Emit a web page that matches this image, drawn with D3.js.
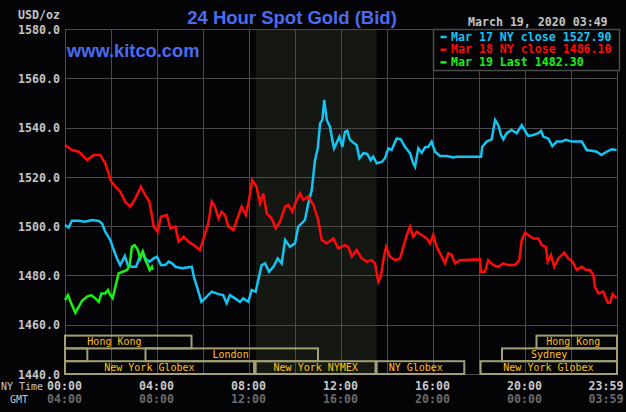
<!DOCTYPE html>
<html>
<head>
<meta charset="utf-8">
<script src="https://cdn.jsdelivr.net/npm/d3@7"></script>
<style>
  body { margin: 0; background: #040406; }
  svg { display: block; }
</style>
</head>
<body>
<script>
// hours since 00:00 NY time, price in USD/oz
var mar17Hours = [0,0.16,0.30,0.60,0.88,1.17,1.47,1.61,1.75,1.97,2.12,2.26,2.40,2.60,2.73,2.91,3.09,3.23,3.38,3.49,3.67,3.86,4.00,4.17,4.36,4.51,4.65,4.80,5.09,5.38,5.52,5.60,5.74,5.93,6.16,6.38,6.67,6.88,7.03,7.17,7.39,7.61,7.75,7.97,8.12,8.29,8.40,8.55,8.70,8.87,9.06,9.25,9.42,9.57,9.78,10.00,10.14,10.29,10.43,10.58,10.73,10.87,10.99,11.09,11.19,11.27,11.38,11.52,11.62,11.70,11.93,12.06,12.17,12.27,12.39,12.57,12.68,12.80,12.97,13.14,13.29,13.40,13.55,13.77,13.91,14.06,14.20,14.42,14.60,14.78,15.00,15.14,15.22,15.36,15.51,15.65,15.80,15.94,16.09,16.30,16.60,16.88,17.03,18.09,18.14,18.33,18.55,18.62,18.70,18.84,18.96,19.06,19.20,19.42,19.64,19.86,20.00,20.14,20.36,20.58,20.70,20.80,21.01,21.19,21.38,21.60,21.77,22.03,22.47,22.68,22.90,23.12,23.33,23.55,23.77,23.98];
var mar17Prices = [1500.5,1499.4,1502.2,1502.2,1501.8,1502.5,1502.1,1501.1,1497.7,1494.4,1490.3,1486.9,1484.2,1487.9,1484.2,1483.5,1483.5,1486.9,1489.6,1486.9,1485.6,1486.9,1487.6,1484.2,1484.2,1485.6,1484.9,1483.5,1482.9,1483.3,1483.5,1479.5,1475.4,1469.3,1471.4,1473.4,1472.4,1472.0,1468.7,1472.0,1470.7,1469.3,1470.7,1469.3,1474.1,1473.4,1478.1,1484.2,1484.9,1481.5,1483.5,1486.9,1484.9,1494.4,1491.6,1493.0,1499.8,1501.1,1502.5,1509.3,1514.7,1526.8,1531.6,1541.7,1543.1,1551.2,1543.1,1540.4,1535.0,1531.6,1536.3,1532.2,1538.3,1538.7,1535.0,1533.6,1532.9,1527.5,1529.6,1529.3,1526.8,1528.2,1525.5,1526.1,1527.5,1531.6,1530.9,1535.6,1535.2,1532.2,1529.6,1525.5,1524.1,1531.6,1529.8,1532.0,1532.2,1534.3,1530.2,1528.5,1528.5,1527.9,1528.2,1528.2,1532.2,1534.3,1535.2,1539.0,1543.1,1541.0,1537.0,1535.2,1537.7,1539.0,1537.7,1541.0,1538.7,1536.6,1537.0,1537.7,1538.7,1536.3,1535.6,1532.5,1534.3,1534.3,1535.0,1534.3,1534.3,1530.9,1530.6,1530.2,1528.9,1530.2,1531.2,1530.9];

var mar18Hours = [0,0.30,0.60,0.96,1.25,1.53,1.75,1.90,1.97,2.19,2.40,2.62,2.84,3.06,3.30,3.49,3.67,3.86,4.03,4.17,4.43,4.58,4.80,4.94,5.16,5.38,5.60,5.87,6.09,6.23,6.38,6.52,6.67,6.81,6.96,7.10,7.32,7.47,7.68,7.86,8.00,8.14,8.33,8.48,8.62,8.77,8.99,9.16,9.35,9.57,9.71,9.88,10.07,10.22,10.36,10.58,10.80,11.01,11.16,11.38,11.67,11.88,12.17,12.32,12.47,12.68,12.90,13.12,13.33,13.48,13.62,13.73,13.84,13.96,14.13,14.35,14.57,14.71,14.86,15.00,15.14,15.29,15.51,15.73,15.87,16.01,16.16,16.38,16.52,16.67,16.81,16.96,17.17,18.04,18.09,18.26,18.40,18.62,18.84,19.06,19.27,19.57,19.75,19.86,20.00,20.14,20.36,20.58,20.73,20.90,20.99,21.13,21.27,21.45,21.71,21.88,22.06,22.25,22.47,22.65,22.83,22.97,23.04,23.19,23.40,23.60,23.70,23.81,23.98];
var mar18Prices = [1532.9,1530.9,1530.2,1526.8,1528.9,1528.9,1525.5,1521.4,1518.7,1516.0,1514.0,1509.9,1507.9,1511.3,1516.0,1512.6,1509.9,1499.8,1497.7,1503.8,1504.5,1499.1,1499.8,1493.7,1495.7,1493.7,1492.3,1490.3,1497.1,1501.1,1509.9,1507.9,1503.1,1505.9,1504.5,1499.8,1498.4,1502.5,1507.9,1504.5,1510.6,1518.7,1516.0,1509.3,1513.3,1505.2,1503.1,1499.1,1501.8,1507.9,1508.6,1505.9,1510.6,1513.3,1510.6,1512.0,1508.6,1502.5,1494.4,1493.0,1495.0,1491.0,1492.3,1491.6,1487.6,1490.3,1486.9,1485.6,1486.2,1484.9,1477.4,1479.5,1486.2,1491.6,1487.6,1486.2,1486.9,1491.6,1496.4,1499.8,1495.7,1497.7,1496.4,1495.0,1493.0,1496.4,1491.6,1487.6,1484.9,1489.0,1488.3,1484.9,1486.2,1486.5,1481.5,1481.5,1486.2,1484.2,1483.5,1484.9,1484.2,1484.2,1486.2,1494.4,1497.3,1496.4,1495.0,1495.0,1492.3,1491.6,1485.6,1488.3,1483.5,1486.9,1489.2,1486.9,1485.6,1482.2,1483.5,1482.2,1482.2,1480.2,1475.4,1472.7,1473.4,1468.9,1468.9,1472.4,1470.7];

var mar19Hours = [0,0.13,0.27,0.45,0.60,0.74,0.96,1.14,1.32,1.47,1.58,1.75,1.87,1.97,2.07,2.19,2.33,2.51,2.70,2.81,2.91,3.03,3.17,3.27,3.38,3.49,3.60,3.68,3.78,3.82];
var mar19Prices = [1470.0,1472.0,1468.7,1464.9,1467.3,1469.7,1471.4,1472.0,1470.7,1469.3,1472.7,1472.7,1474.1,1472.0,1470.7,1475.4,1480.8,1481.5,1482.2,1484.2,1491.6,1492.3,1490.3,1486.9,1489.6,1486.2,1484.2,1482.2,1483.5,1482.3];

var legendLabels = ["Mar 17 NY close 1527.90", "Mar 18 NY close 1486.10", "Mar 19 Last 1482.30"];

var yTicks = [1440, 1460, 1480, 1500, 1520, 1540, 1560, 1580];
var xTickHours = [0, 4, 8, 12, 16, 20, 24];
var nyTimeLabels = ["00:00", "04:00", "08:00", "12:00", "16:00", "20:00", "23:59"];
var gmtLabels = ["04:00", "08:00", "12:00", "16:00", "20:00", "00:00", "03:59"];

// trading sessions: row 0 = top
var sessions = [
  {name: "Hong Kong",       start: 0,     end: 5.5,   row: 0, labelAt: 2.15},
  {name: "Hong Kong",       start: 20.5,  end: 24,    row: 0, labelAt: 22.1},
  {name: "",                start: 0,     end: 0.97,  row: 1, labelAt: 0.5},
  {name: "London",          start: 3.5,   end: 11,    row: 1, labelAt: 7.2},
  {name: "Sydney",          start: 19,    end: 24,    row: 1, labelAt: 21.05},
  {name: "New York Globex", start: 0,     end: 8.22,  row: 2, labelAt: 3.67},
  {name: "New York NYMEX",  start: 8.29,  end: 13.5,  row: 2, labelAt: 10.9},
  {name: "NY Globex",       start: 13.55, end: 17.36, row: 2, labelAt: 15.25},
  {name: "New York Globex", start: 18.07, end: 24,    row: 2, labelAt: 21.02}
];
var nymexStart = 8.3, nymexEnd = 13.55;

// set the dimensions and margins of the graph
var margin = {top: 29, right: 9, bottom: 38, left: 65},
    width = 626 - margin.left - margin.right,
    height = 412 - margin.top - margin.bottom;

var x = d3.scaleLinear().domain([0, 24]).range([0, width]);
var y = d3.scaleLinear().domain([1440, 1580]).range([height, 0]);

var mono = "'DejaVu Sans Mono', monospace";

var root = d3.select("body").append("svg")
    .attr("width", 626)
    .attr("height", 412);

root.append("rect")
    .attr("width", 626).attr("height", 412)
    .attr("fill", "#040406");

var svg = root.append("g")
    .attr("transform", "translate(" + margin.left + "," + margin.top + ")");

// NYMEX hours shading
svg.append("rect")
    .attr("x", x(nymexStart))
    .attr("width", x(nymexEnd) - x(nymexStart))
    .attr("y", 0)
    .attr("height", height)
    .attr("fill", "#151713");

// grid
var grid = svg.append("g")
    .attr("stroke", "#4a4a4a")
    .attr("stroke-width", 1)
    .attr("shape-rendering", "crispEdges");

grid.selectAll(".hgrid")
    .data(yTicks)
  .enter().append("line")
    .attr("x1", 0).attr("x2", width)
    .attr("y1", function(d) { return Math.round(y(d)) + 0.5; })
    .attr("y2", function(d) { return Math.round(y(d)) + 0.5; });

grid.selectAll(".vgrid")
    .data(d3.range(0, 25, 2))
  .enter().append("line")
    .attr("y1", 0).attr("y2", height)
    .attr("x1", function(d) { return Math.round(x(d)) + 0.5; })
    .attr("x2", function(d) { return Math.round(x(d)) + 0.5; });

// price lines
var lineFunction = d3.line()
    .x(function(d) { return x(d[0]); })
    .y(function(d) { return y(d[1]); });

var series = [
  {h: mar17Hours, p: mar17Prices, color: "#14c4f2"},
  {h: mar18Hours, p: mar18Prices, color: "#ff0a0a"},
  {h: mar19Hours, p: mar19Prices, color: "#18f018"}
];

series.forEach(function(s) {
  svg.append("path")
      .attr("d", lineFunction(d3.zip(s.h, s.p)))
      .attr("fill", "none")
      .attr("stroke", s.color)
      .attr("stroke-width", 2.5)
      .attr("stroke-linejoin", "miter");
});

// session boxes
var rowH = 12.8;
var rowTop = height - 3 * rowH;

var sess = svg.selectAll(".session")
    .data(sessions)
  .enter().append("g");

sess.append("rect")
    .attr("x", function(d) { return x(d.start); })
    .attr("width", function(d) { return x(d.end) - x(d.start); })
    .attr("y", function(d) { return rowTop + d.row * rowH; })
    .attr("height", rowH)
    .attr("fill", "none")
    .attr("stroke", "#a29f72")
    .attr("stroke-width", 2);

sess.append("text")
    .attr("x", function(d) { return x(d.labelAt); })
    .attr("y", function(d) { return rowTop + d.row * rowH + 9.8; })
    .attr("text-anchor", "middle")
    .style("font-family", mono)
    .style("font-size", "10px")
    .attr("fill", "#ffc21a")
    .text(function(d) { return d.name; });

// y axis labels
svg.append("g")
    .attr("transform", "translate(-5,0)")
    .call(d3.axisLeft(y).tickValues(yTicks).tickSize(0).tickFormat(d3.format(".1f")))
    .call(function(g) {
      g.select(".domain").remove();
      g.selectAll("text")
          .attr("x", 0)
          .attr("dy", "0.36em")
          .style("font-family", mono)
          .style("font-size", "11.6px")
          .style("font-weight", "bold")
          .attr("fill", "#c4c4c4");
    });

root.append("text")
    .attr("x", 60).attr("y", 19)
    .attr("text-anchor", "end")
    .style("font-family", mono)
    .style("font-size", "11.6px")
    .style("font-weight", "bold")
    .attr("fill", "#c4c4c4")
    .text("USD/oz");

// x axis labels (NY time and GMT)
svg.append("g")
    .attr("transform", "translate(0," + (height + 16) + ")")
    .call(d3.axisBottom(x).tickValues(xTickHours).tickSize(0)
      .tickFormat(function(d, i) { return nyTimeLabels[i]; }))
    .call(function(g) {
      g.select(".domain").remove();
      g.selectAll("text")
          .attr("y", 0).attr("dy", 0)
          .attr("text-anchor", function(d) { return d === 24 ? "end" : "middle"; })
          .attr("dx", function(d) { return d === 24 ? 6 : -1; })
          .style("font-family", mono)
          .style("font-size", "11.6px")
          .style("font-weight", "bold")
          .attr("fill", "#c8c8c8");
    });

svg.append("g")
    .attr("transform", "translate(0," + (height + 28.5) + ")")
    .call(d3.axisBottom(x).tickValues(xTickHours).tickSize(0)
      .tickFormat(function(d, i) { return gmtLabels[i]; }))
    .call(function(g) {
      g.select(".domain").remove();
      g.selectAll("text")
          .attr("y", 0).attr("dy", 0)
          .attr("text-anchor", function(d) { return d === 24 ? "end" : "middle"; })
          .attr("dx", function(d) { return d === 24 ? 6 : -1; })
          .style("font-family", mono)
          .style("font-size", "11.6px")
          .style("font-weight", "bold")
          .attr("fill", "#6a6a6a");
    });

root.append("text")
    .attr("x", 1).attr("y", 390)
    .style("font-family", mono)
    .style("font-size", "10px")
    .attr("fill", "#c8c8c8")
    .text("NY Time");

root.append("text")
    .attr("x", 10).attr("y", 402.5)
    .style("font-family", mono)
    .style("font-size", "10px")
    .attr("fill", "#c8c8c8")
    .text("GMT");

// titles
root.append("text")
    .attr("x", 292).attr("y", 24)
    .attr("text-anchor", "middle")
    .style("font-family", "'Liberation Sans', Arial, sans-serif")
    .style("font-size", "18.5px")
    .style("font-weight", "bold")
    .attr("fill", "#4b6cf0")
    .text("24 Hour Spot Gold (Bid)");

root.append("text")
    .attr("x", 67).attr("y", 57)
    .style("font-family", "'Liberation Sans', Arial, sans-serif")
    .style("font-size", "18.3px")
    .style("font-weight", "bold")
    .attr("fill", "#4b6cf0")
    .text("www.kitco.com");

root.append("text")
    .attr("x", 468).attr("y", 26)
    .style("font-family", mono)
    .style("font-size", "11.6px")
    .style("font-weight", "bold")
    .attr("fill", "#c4c4c4")
    .text("March 19, 2020 03:49");

// legend
var lg = svg.append("g")
    .attr("transform", "translate(" + (Math.round(x(16)) + 0.5) + ",0.5)");

lg.append("rect")
    .attr("width", 186)
    .attr("height", 41)
    .attr("fill", "#040406")
    .attr("stroke", "#4a4a4a")
    .attr("stroke-width", 1.5);

var lgItems = lg.selectAll(".item")
    .data(legendLabels)
  .enter().append("g")
    .attr("transform", function(d, i) { return "translate(0," + (11 + i * 12.7) + ")"; });

lgItems.append("line")
    .attr("x1", 7).attr("x2", 13)
    .attr("y1", -3.5).attr("y2", -3.5)
    .attr("stroke", function(d, i) { return series[i].color; })
    .attr("stroke-width", 2.5);

lgItems.append("text")
    .attr("x", 17.5)
    .style("font-family", mono)
    .style("font-size", "11.6px")
    .style("font-weight", "bold")
    .attr("fill", function(d, i) { return series[i].color; })
    .text(function(d) { return d; });
</script>
</body>
</html>
